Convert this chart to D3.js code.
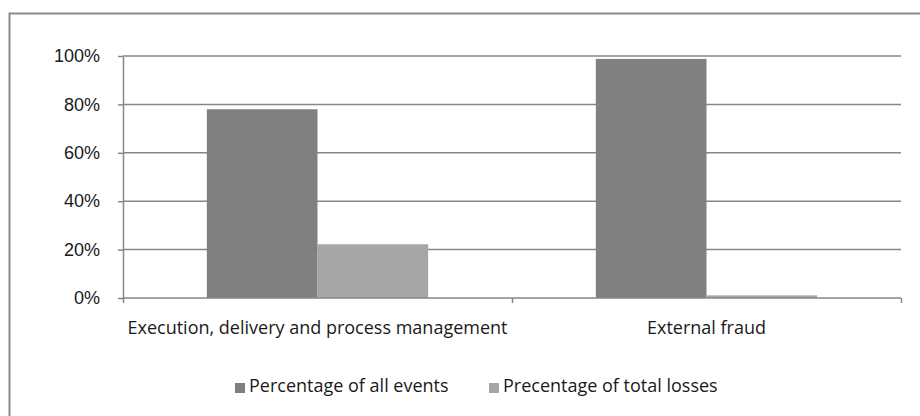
<!DOCTYPE html>
<html>
<head>
<meta charset="utf-8">
<script src="https://cdn.jsdelivr.net/npm/d3@7/dist/d3.min.js"></script>
<style>
  body { margin: 0; background: #fff; }
  svg { display: block; font-family: "Open Sans", sans-serif; }
</style>
</head>
<body>
<div id="chart"></div>
<script>
// chart data
const categories = ["Execution, delivery and process management", "External fraud"];
const seriesNames = ["Percentage of all events", "Precentage of total losses"];
const allEvents = [78.0, 98.8];
const totalLosses = [22.2, 1.1];
const yTicks = [0, 20, 40, 60, 80, 100];

const colors = ["#808080", "#a6a6a6"];

const W = 920, H = 416;
let margin = {top: 56, right: 19, bottom: 118, left: 123},
  width = W - margin.left - margin.right,
  height = H - margin.top - margin.bottom;

let svg = d3.select("#chart")
  .append("svg")
  .attr("width", W)
  .attr("height", H);

// outer frame (clipped by the window on right and bottom)
svg.append("rect")
  .attr("x", 9.5).attr("y", 13.5)
  .attr("width", 940).attr("height", 440)
  .attr("fill", "none")
  .attr("stroke", "#8c8c8c")
  .attr("stroke-width", 2);

let g = svg.append("g")
  .attr("transform", "translate(" + margin.left + "," + margin.top + ")");

let x0 = d3.scaleBand()
  .domain(categories)
  .range([0, width])
  .paddingInner(0.431)
  .paddingOuter(0.2155);

let x1 = d3.scaleBand()
  .domain(seriesNames)
  .range([0, x0.bandwidth()]);

let y = d3.scaleLinear()
  .domain([0, 100])
  .range([height, 0]);

// gridlines
g.append("g")
  .selectAll("line")
  .data(yTicks.filter(d => d > 0))
  .enter()
  .append("line")
    .attr("x1", 0).attr("x2", width)
    .attr("y1", d => y(d)).attr("y2", d => y(d))
    .attr("stroke", "#868686")
    .attr("stroke-width", 1.5);

// bars
let rows = categories.map((c, i) => ({cat: c, vals: [allEvents[i], totalLosses[i]]}));
g.append("g")
  .selectAll("g")
  .data(rows)
  .enter()
  .append("g")
    .attr("transform", d => "translate(" + x0(d.cat) + ",0)")
  .selectAll("rect")
  .data(d => d.vals.map((v, k) => ({s: seriesNames[k], v: v, k: k})))
  .enter()
  .append("rect")
    .attr("x", d => x1(d.s))
    .attr("y", d => y(d.v))
    .attr("width", x1.bandwidth())
    .attr("height", d => height - y(d.v))
    .attr("fill", d => colors[d.k]);

// y axis
let yAxis = g.append("g")
  .call(d3.axisLeft(y).tickValues(yTicks).tickFormat(d => d + "%").tickSize(5).tickSizeOuter(0));
yAxis.select(".domain").attr("stroke", "#868686").attr("stroke-width", 1.5);
yAxis.selectAll(".tick line").attr("stroke", "#868686").attr("stroke-width", 1.5);
yAxis.selectAll(".tick text")
  .attr("x", -23)
  .attr("fill", "#1a1a1a")
  .style("font-size", "18px");

// x axis
let xAxis = g.append("g")
  .attr("transform", "translate(0," + height + ")")
  .call(d3.axisBottom(d3.scaleLinear().domain([0, 2]).range([0, width])).ticks(2).tickSize(5).tickFormat(""));
xAxis.select(".domain").remove();
xAxis.selectAll(".tick line").attr("stroke", "#868686").attr("stroke-width", 1.5);
g.append("line")
  .attr("x1", 0).attr("x2", width)
  .attr("y1", height).attr("y2", height)
  .attr("stroke", "#868686").attr("stroke-width", 1.5);

g.append("g")
  .selectAll("text")
  .data(categories)
  .enter()
  .append("text")
    .attr("x", d => x0(d) + x0.bandwidth() / 2)
    .attr("y", height + 36)
    .attr("text-anchor", "middle")
    .attr("fill", "#1a1a1a")
    .style("font-size", "18px")
    .text(d => d);

// legend
let legendX = [235, 489];
let legend = svg.append("g")
  .selectAll("g")
  .data(seriesNames)
  .enter()
  .append("g")
    .attr("transform", (d, i) => "translate(" + legendX[i] + ",383)");
legend.append("rect")
  .attr("width", 10).attr("height", 10)
  .attr("fill", (d, i) => colors[i]);
legend.append("text")
  .attr("x", 14).attr("y", 9)
  .attr("fill", "#1a1a1a")
  .style("font-size", "18px")
  .text(d => d);
</script>
</body>
</html>
